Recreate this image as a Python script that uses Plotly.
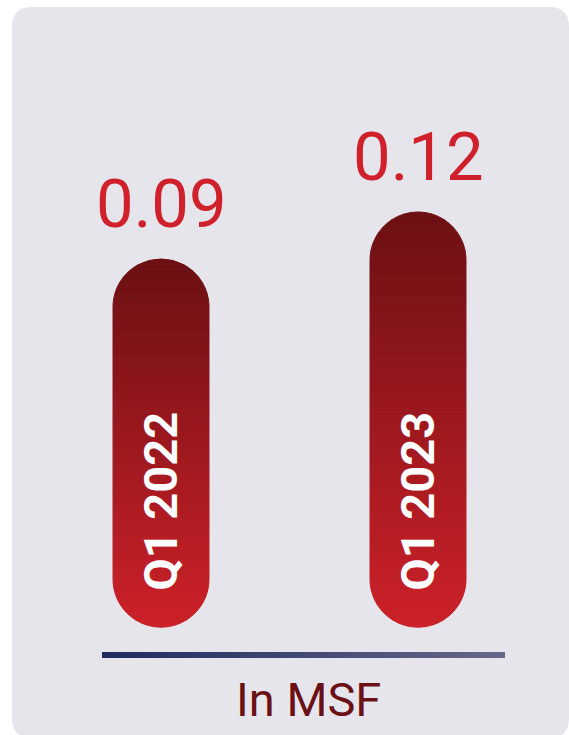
import plotly.graph_objects as go

# ---- data ----
categories = ["Q1 2022", "Q1 2023"]
values = [0.09, 0.12]
unit_label = "In MSF"
value_labels = ["0.09", "0.12"]

# ---- style ----
W, H = 569, 735
PAD = 0.145            # visual pad below zero (rounded foot of each pill)
TOP_COL = (0x6b, 0x10, 0x13)
BOT_COL = (0xcd, 0x21, 0x29)
BG = "#e6e5ec"
N_POS, N_NEG = 24, 30


def mix(f):
    c = [round(b * (1 - f) + t * f) for t, b in zip(TOP_COL, BOT_COL)]
    return "rgb(%d,%d,%d)" % tuple(c)


fig = go.Figure()

# positive segments (0 -> value), stacked upward
for k in range(N_POS):
    seg = [v / N_POS for v in values]
    cols = []
    for v in values:
        total = v + PAD
        mid = PAD + v * (k + 0.5) / N_POS
        cols.append(mix(mid / total))
    fig.add_trace(go.Bar(x=categories, y=seg,
                         marker=dict(color=cols, line=dict(width=1, color=cols)),
                         width=0.3735, hoverinfo="skip", showlegend=False))

# negative segments (0 -> -PAD), stacked downward
for k in range(N_NEG):
    seg = [-PAD / N_NEG for _ in values]
    cols = []
    for v in values:
        total = v + PAD
        mid = PAD - PAD * (k + 0.5) / N_NEG
        cols.append(mix(mid / total))
    fig.add_trace(go.Bar(x=categories, y=seg,
                         marker=dict(color=cols, line=dict(width=1, color=cols)),
                         width=0.3735, hoverinfo="skip", showlegend=False))

shapes = []
# background panel (rounded rectangle)
x0, x1, y0, y1 = 12 / W, 569 / W, 1 - 7 / H, 1 - 738 / H
rx, ry = 20 / W, 20 / H
path = (f"M {x0+rx},{y0} L {x1-rx},{y0} Q {x1},{y0} {x1},{y0-ry} "
        f"L {x1},{y1+ry} Q {x1},{y1} {x1-rx},{y1} L {x0+rx},{y1} Q {x0},{y1} {x0},{y1+ry} "
        f"L {x0},{y0-ry} Q {x0},{y0} {x0+rx},{y0} Z")
shapes.append(dict(type="path", path=path, xref="paper", yref="paper",
                   fillcolor=BG, line=dict(width=0), layer="below"))

# gradient baseline
L0, L1 = 102, 505
c_left, c_right = (0x1f, 0x2a, 0x5e), (0x67, 0x67, 0x8a)
NS = 60
for i in range(NS):
    f = (i + 0.5) / NS
    col = "rgb(%d,%d,%d)" % tuple(round(a * (1 - f) + b * f) for a, b in zip(c_left, c_right))
    xa = L0 + (L1 - L0) * i / NS
    xb = L0 + (L1 - L0) * (i + 1) / NS + 0.6
    shapes.append(dict(type="rect", xref="paper", yref="paper",
                       x0=xa / W, x1=min(xb, L1) / W, y0=1 - 652 / H, y1=1 - 658 / H,
                       fillcolor=col, line=dict(width=0), layer="above"))

annotations = []
for c, v, lab in zip(categories, values, value_labels):
    annotations.append(dict(x=c, y=v, xref="x", yref="y", text=lab, showarrow=False,
                            yanchor="bottom", yshift=14,
                            font=dict(family="Roboto", size=67, color="#d0202b")))
    annotations.append(dict(x=c, y=-PAD, xref="x", yref="y", text="<b>%s</b>" % c,
                            showarrow=False, textangle=-90, yanchor="bottom", yshift=34,
                            font=dict(family="Roboto", size=47, color="white")))
annotations.append(dict(x=308 / W, y=1 - 699 / H, xref="paper", yref="paper", text=unit_label,
                        showarrow=False, xanchor="center", yanchor="middle",
                        font=dict(family="Roboto", size=47, color="#6b1116")))

s = 1567.0
fig.update_layout(
    width=W, height=H, margin=dict(l=0, r=0, t=0, b=0),
    paper_bgcolor="white", plot_bgcolor="rgba(0,0,0,0)",
    barmode="relative", barcornerradius="50%",
    xaxis=dict(range=[-161 / 257, (W - 161) / 257], showticklabels=False, showgrid=False,
               zeroline=False, showline=False, fixedrange=True),
    yaxis=dict(range=[-(H - 400) / s, 400 / s], showticklabels=False, showgrid=False,
               zeroline=False, showline=False, fixedrange=True),
    shapes=shapes, annotations=annotations, showlegend=False,
)

fig.write_html("out.html")
